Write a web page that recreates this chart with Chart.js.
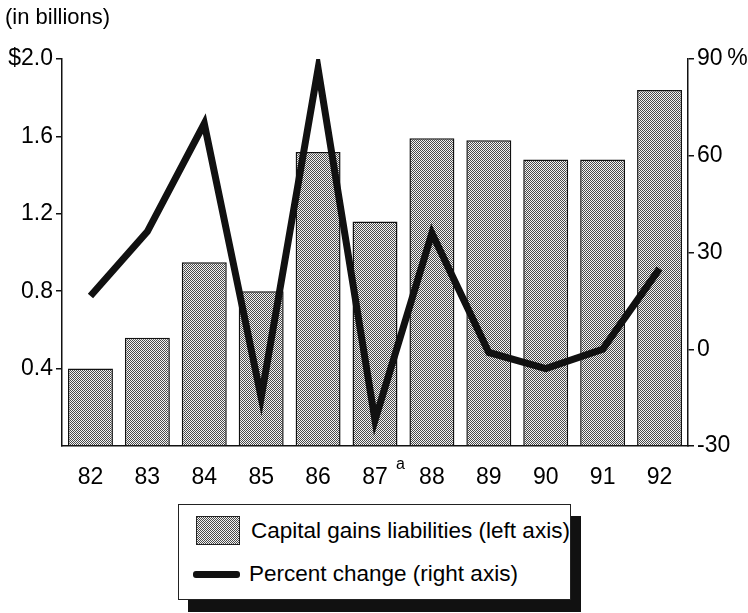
<!DOCTYPE html>
<html>
<head>
<meta charset="utf-8">
<script src="https://cdn.jsdelivr.net/npm/chart.js@4/dist/chart.umd.min.js"></script>
<style>
  body { margin: 0; background: #fff; font-family: 'Liberation Sans', Arial, sans-serif; color: #000; }
  #wrap { position: relative; width: 748px; height: 613px; }
  #unit { position: absolute; left: 5px; top: 4px; font-size: 22px; }
  #legend { position: absolute; left: 178px; top: 504px; width: 393px; height: 96px; border: 1px solid #222; background: #fff; box-shadow: 10px 12px 0 #111; box-sizing: border-box; }
  .item { position: absolute; font-size: 22.5px; white-space: nowrap; }
  .item span { display: inline-block; vertical-align: middle; }
  .sw { width: 42px; height: 27px; border: 1px solid #222; margin-right: 11px; }
  .ln { width: 47px; height: 7px; background: #111; border-radius: 3px; margin-right: 9px; }
</style>
</head>
<body>
<div id="wrap">
  <canvas id="c" width="748" height="500"></canvas>
  <div id="unit">(in billions)</div>
  <div id="legend">
    <div class="item" style="left:17px; top:11px"><span class="sw" id="sw"></span><span>Capital gains liabilities (left axis)</span></div>
    <div class="item" style="left:14px; top:55px"><span class="ln"></span><span>Percent change (right axis)</span></div>
  </div>
</div>
<script>
var years = ['82', '83', '84', '85', '86', '87', '88', '89', '90', '91', '92'];
var liabilities = [0.40, 0.56, 0.95, 0.80, 1.52, 1.16, 1.59, 1.58, 1.48, 1.48, 1.84];
var pctChange = [16.5, 36.5, 70, -15, 87, -22, 36, -1, -6, 0, 25];
var leftTicks = [0, 2.0, 0.4];   // min, max, step
var rightTicks = [-30, 90, 30];

(function() {
  if (typeof Chart === 'undefined') return;

  // stippled fill like the printed screen
  var tile = document.createElement('canvas');
  tile.width = 2; tile.height = 2;
  var t = tile.getContext('2d');
  t.fillStyle = '#f4f4f4'; t.fillRect(0, 0, 2, 2);
  t.fillStyle = '#4a4a4a'; t.fillRect(0, 0, 1, 1); t.fillRect(1, 1, 1, 1);
  document.getElementById('sw').style.backgroundImage = 'url(' + tile.toDataURL() + ')';

  var el = document.getElementById('c');
  var ctx = el.getContext('2d');
  var stipple = ctx.createPattern(tile, 'repeat');

  Chart.defaults.font.family = "'Liberation Sans', Arial, sans-serif";
  Chart.defaults.color = '#000';

  var footnote = {
    id: 'footnote',
    afterDraw: function(chart) {
      var x = chart.scales.x;
      var c = chart.ctx;
      c.save();
      c.font = "16px 'Liberation Sans', Arial, sans-serif";
      c.fillStyle = '#000';
      c.textAlign = 'left';
      c.textBaseline = 'middle';
      c.fillText('a', x.getPixelForValue(5) + 21, x.top + 19);
      c.restore();
    }
  };

  var tickMark = function(c) { return c.tick && c.tick.value === 0 ? 'rgba(0,0,0,0)' : '#111'; };

  new Chart(ctx, {
    type: 'bar',
    data: {
      labels: years,
      datasets: [
        { type: 'line', label: 'Percent change (right axis)', data: pctChange, yAxisID: 'y1', borderColor: '#111', borderWidth: 7, pointRadius: 0, tension: 0, borderJoinStyle: 'miter', borderCapStyle: 'butt', order: 0 },
        { label: 'Capital gains liabilities (left axis)', data: liabilities, yAxisID: 'y', backgroundColor: stipple, borderColor: '#111', borderWidth: 1.5, categoryPercentage: 1, barPercentage: 0.79, order: 1 }
      ]
    },
    options: {
      responsive: false,
      animation: false,
      layout: { padding: { top: 59, left: 0, right: 0, bottom: 0 } },
      plugins: { legend: { display: false }, tooltip: { enabled: false } },
      scales: {
        x: {
          grid: { display: false },
          border: { display: true, color: '#111', width: 1.5 },
          ticks: { font: { size: 23 }, padding: 10, maxRotation: 0 },
          afterFit: function(s) { s.height = 54; }
        },
        y: {
          position: 'left',
          min: leftTicks[0], max: leftTicks[1],
          grid: { drawOnChartArea: false, tickLength: 6, color: tickMark, lineWidth: 1.5 },
          border: { display: true, color: '#111', width: 1.5 },
          ticks: {
            stepSize: leftTicks[2], font: { size: 23 }, padding: 3,
            callback: function(v) { if (v === 0) return ''; var s = v.toFixed(1); return v === leftTicks[1] ? '$' + s : s; }
          },
          afterFit: function(s) { s.width = 62; }
        },
        y1: {
          position: 'right',
          min: rightTicks[0], max: rightTicks[1],
          grid: { drawOnChartArea: false, tickLength: 6, color: '#111', lineWidth: 1.5 },
          border: { display: true, color: '#111', width: 1.5 },
          ticks: {
            stepSize: rightTicks[2], font: { size: 23 }, padding: 3,
            callback: function(v) { return v === rightTicks[1] ? v + '\u2009%' : v; }
          },
          afterFit: function(s) { s.width = 60; }
        }
      }
    },
    plugins: [footnote]
  });
})();
</script>
</body>
</html>
